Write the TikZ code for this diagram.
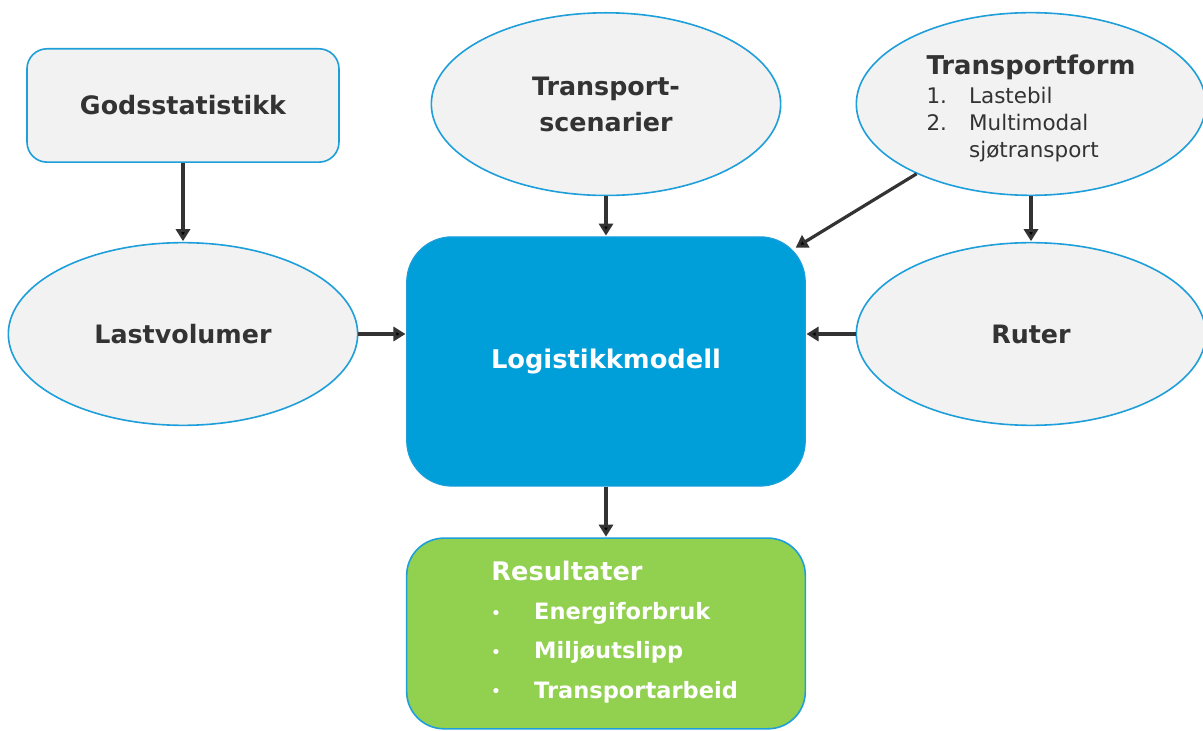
\documentclass[tikz,border=0pt]{standalone}
\usepackage{fontspec}
\setmainfont{DejaVu Sans}
\usetikzlibrary{shapes.geometric, positioning, arrows.meta}
\definecolor{rimblue}{RGB}{30,159,218}
\definecolor{modelblue}{RGB}{0,159,218}
\definecolor{resgreen}{RGB}{146,208,80}
\definecolor{boxgrey}{RGB}{242,242,242}
\definecolor{inkdark}{RGB}{51,51,51}
\newcommand{\listfont}{\mdseries\fontsize{16.1}{20}\selectfont}
\newcommand{\itemdot}{\makebox[32pt][l]{\fontsize{11}{11}\selectfont\raisebox{1pt}{•}}}

\tikzset{
  source/.style={ellipse, draw=rimblue, line width=1.2pt, fill=boxgrey,
    minimum width=262pt, minimum height=137pt, inner sep=0pt,
    text=inkdark, font=\bfseries\fontsize{19}{27}\selectfont, align=center},
  databox/.style={rectangle, rounded corners=15pt, draw=rimblue, line width=1.2pt,
    fill=boxgrey, minimum width=234pt, minimum height=85pt,
    text=inkdark, font=\bfseries\fontsize{19}{27}\selectfont},
  modelbox/.style={rectangle, rounded corners=34pt, draw=rimblue, line width=0.8pt,
    fill=modelblue, minimum width=299pt, minimum height=187pt,
    text=white, font=\bfseries\fontsize{19.3}{27}\selectfont},
  resultbox/.style={rectangle, rounded corners=28pt, draw=rimblue, line width=1.2pt,
    fill=resgreen, minimum width=299pt, minimum height=143pt},
  arr/.style={-{Triangle[length=9pt,width=10.5pt]}, line width=2.4pt, draw=inkdark}
}

\begin{document}
\begin{tikzpicture}[shorten >=0.5pt,on grid]
\useasboundingbox (-454.5pt,-277.1pt) rectangle (447.75pt,271.1pt);

\node[modelbox] (main) at (0,0) {Logistikkmodell};
\node[source] (lastv) [above left=20.6pt and 317.25pt of main] {Lastvolumer};
\node[source] (ruter) [above right=20.6pt and 318.75pt of main] {Ruter};
\node[databox] (gods) [above=171.4pt of lastv] {Godsstatistikk};
\node[source] (scen) [above=193pt of main] {Transport-\\scenarier};
\node[source, align=left, font=\bfseries\fontsize{19.4}{20}\selectfont] (tform) [above=172.5pt of ruter]
  {\rule{0pt}{21pt}Transportform\\[2pt]
   {\listfont\makebox[32pt][l]{1.}Lastebil}\\
   {\listfont\makebox[32pt][l]{2.}Multimodal}\\
   {\listfont\hspace*{32pt}sjøtransport}};
\node[resultbox] (res) [below=204pt of main] {};
\node[align=left, text=white, font=\bfseries\fontsize{16.9}{29.5}\selectfont] (restext)
  [above right=1.2pt and 6.5pt of res]
  {{\fontsize{19.2}{20}\selectfont Resultater}\\
   \itemdot Energiforbruk\\
   \itemdot Miljøutslipp\\
   \itemdot Transportarbeid};

\path[arr]
(gods) edge (lastv)
(scen) edge (main)
(tform) edge (ruter)
        edge[shorten >=-9pt] (main.31)
(lastv) edge (lastv -| main.west)
(ruter) edge (ruter -| main.east)
(main) edge (res);
\end{tikzpicture}
\end{document}
